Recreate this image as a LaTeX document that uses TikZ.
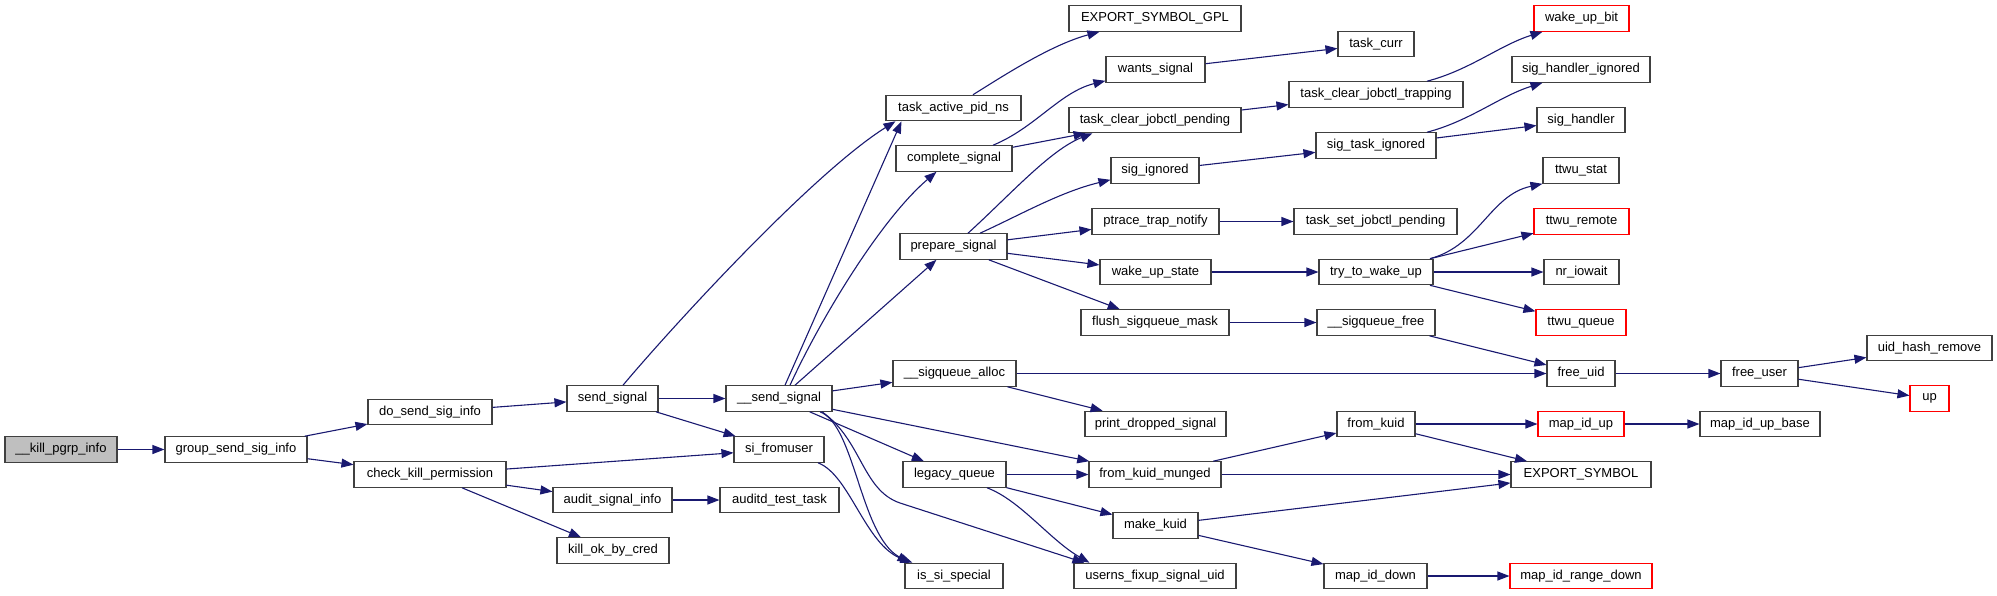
\documentclass[tikz,border=0pt]{standalone}
\usepackage{fontspec}
\setmainfont{Liberation Sans}
\usetikzlibrary{arrows.meta}
\definecolor{mblue}{HTML}{191970}
\definecolor{bord}{HTML}{404040}
\begin{document}
\begin{tikzpicture}[x=1pt,y=-1pt,
  nb/.style={draw=bord, line width=1.1pt, fill=white, minimum height=25.5pt, inner sep=0pt, font=\fontsize{13}{15}\selectfont},
  rd/.style={nb, draw=red},
  root/.style={nb, fill=black!25},
  cl/.style={draw=mblue, line width=1.1pt, -{Triangle[length=12pt,width=9pt]}}]
\useasboundingbox (0,0) rectangle (1997,595);
\node[root, minimum width=112pt] (kpi) at (61,449.5) {\_\_kill\_pgrp\_info};
\node[nb, minimum width=142pt] (gssi) at (236,449.5) {group\_send\_sig\_info};
\node[nb, minimum width=124pt] (dssi) at (430,412) {do\_send\_sig\_info};
\node[nb, minimum width=152pt] (ckp) at (430,474.5) {check\_kill\_permission};
\node[nb, minimum width=91pt] (ss) at (612.5,398.5) {send\_signal};
\node[nb, minimum width=106pt] (uss) at (779,398.5) {\_\_send\_signal};
\node[nb, minimum width=90pt] (sfu) at (779,449.5) {si\_fromuser};
\node[nb, minimum width=119pt] (asi) at (612.5,500) {audit\_signal\_info};
\node[nb, minimum width=119pt] (att) at (779.5,500) {auditd\_test\_task};
\node[nb, minimum width=112pt] (kobc) at (613,550.5) {kill\_ok\_by\_cred};
\node[nb, minimum width=123pt] (sqa) at (954.5,373.5) {\_\_sigqueue\_alloc};
\node[nb, minimum width=103pt] (lq) at (954.5,474.5) {legacy\_queue};
\node[nb, minimum width=98pt] (iss) at (954,576) {is\_si\_special};
\node[nb, minimum width=135pt] (tapn) at (953.5,108) {task\_active\_pid\_ns};
\node[nb, minimum width=116pt] (cs) at (954,158.5) {complete\_signal};
\node[nb, minimum width=107pt] (ps) at (953.5,246.5) {prepare\_signal};
\node[nb, minimum width=172pt] (esg) at (1155,18.5) {EXPORT\_SYMBOL\_GPL};
\node[nb, minimum width=99pt] (ws) at (1155.5,69.5) {wants\_signal};
\node[nb, minimum width=76pt] (tc) at (1376,44) {task\_curr};
\node[nb, minimum width=172pt] (tcjp) at (1155,120) {task\_clear\_jobctl\_pending};
\node[nb, minimum width=174pt] (tcjt) at (1376,94.5) {task\_clear\_jobctl\_trapping};
\node[nb, minimum width=88pt] (si) at (1155,170.5) {sig\_ignored};
\node[nb, minimum width=120pt] (sti) at (1376,145.5) {sig\_task\_ignored};
\node[nb, minimum width=127pt] (ptn) at (1155.5,221.5) {ptrace\_trap\_notify};
\node[nb, minimum width=163pt] (tsjp) at (1375.5,221.5) {task\_set\_jobctl\_pending};
\node[nb, minimum width=111pt] (wus) at (1155.5,272) {wake\_up\_state};
\node[nb, minimum width=114pt] (ttwu) at (1376,272) {try\_to\_wake\_up};
\node[nb, minimum width=148pt] (fsm) at (1155,322.5) {flush\_sigqueue\_mask};
\node[nb, minimum width=118pt] (sqf) at (1376,322.5) {\_\_sigqueue\_free};
\node[nb, minimum width=141pt] (pds) at (1155.5,424) {print\_dropped\_signal};
\node[nb, minimum width=78pt] (fk) at (1376,424) {from\_kuid};
\node[nb, minimum width=132pt] (fkm) at (1155,474.5) {from\_kuid\_munged};
\node[nb, minimum width=85pt] (mk) at (1155.5,525.5) {make\_kuid};
\node[nb, minimum width=162pt] (ufsu) at (1155,576) {userns\_fixup\_signal\_uid};
\node[nb, minimum width=103pt] (mid) at (1375.5,576) {map\_id\_down};
\node[rd, minimum width=95pt] (wub) at (1581.5,18.5) {wake\_up\_bit};
\node[nb, minimum width=138pt] (shi) at (1581,69.5) {sig\_handler\_ignored};
\node[nb, minimum width=88pt] (sh) at (1581,120) {sig\_handler};
\node[nb, minimum width=76pt] (tst) at (1581,170.5) {ttwu\_stat};
\node[rd, minimum width=95pt] (trm) at (1581.5,221.5) {ttwu\_remote};
\node[nb, minimum width=75pt] (nio) at (1581.5,272) {nr\_iowait};
\node[rd, minimum width=90pt] (tq) at (1581,322.5) {ttwu\_queue};
\node[nb, minimum width=68pt] (fu) at (1581,373.5) {free\_uid};
\node[nb, minimum width=77pt] (fus) at (1759.5,373.5) {free\_user};
\node[nb, minimum width=125pt] (uhr) at (1929.5,348) {uid\_hash\_remove};
\node[rd, minimum width=39pt] (up) at (1929.5,398.5) {up};
\node[rd, minimum width=86pt] (miu) at (1581,424) {map\_id\_up};
\node[nb, minimum width=120pt] (miub) at (1760,424) {map\_id\_up\_base};
\node[nb, minimum width=140pt] (es) at (1581,474.5) {EXPORT\_SYMBOL};
\node[rd, minimum width=142pt] (mird) at (1581,576) {map\_id\_range\_down};
%
\draw[cl] (kpi) -- (gssi);
\draw[cl] (gssi) -- (dssi);
\draw[cl] (gssi) -- (ckp);
\draw[cl] (dssi) -- (ss);
\draw[cl] (ckp) -- (sfu);
\draw[cl] (ckp) -- (asi);
\draw[cl] (ckp) -- (kobc);
\draw[cl] ([xshift=10.5pt]ss.north) .. controls (665,335) and (810,175) .. ([xshift=10pt]tapn.south west);
\draw[cl] (ss) -- (uss);
\draw[cl] (ss) -- (sfu);
\draw[cl] (asi) -- (att);
\draw[cl] ([xshift=39pt]sfu.south) .. controls (850,475) and (865,545) .. ([xshift=8pt]iss.north west);
\draw[cl] ([xshift=6pt]uss.north) -- ([xshift=16pt]tapn.south west);
\draw[cl] ([xshift=11pt]uss.north) .. controls (820,320) and (880,220) .. ([xshift=41pt]cs.south west);
\draw[cl] ([xshift=16pt]uss.north) -- ([xshift=37pt]ps.south west);
\draw[cl] (uss) -- (sqa);
\draw[cl] (uss) -- (fkm);
\draw[cl] (uss) -- (lq);
\draw[cl] ([xshift=41pt]uss.south) .. controls (855,425) and (860,535) .. ([xshift=5pt]iss.north west);
\draw[cl] ([xshift=43pt]uss.south) .. controls (862,440) and (862,490) .. (900,503) -- ([xshift=11pt]ufsu.north west);
\draw[cl] ([xshift=19.5pt]tapn.north) .. controls (1000,78) and (1050,45) .. ([xshift=31pt]esg.south west);
\draw[cl] ([xshift=39pt]cs.north) .. controls (1035,128) and (1060,92) .. ([yshift=2pt]ws.south west);
\draw[cl] (cs) -- (tcjp);
\draw[cl] ([xshift=14.5pt]ps.north) .. controls (1010,195) and (1050,150) .. ([xshift=24pt]tcjp.south west);
\draw[cl] ([xshift=26.5pt]ps.north) .. controls (1020,215) and (1060,192) .. ([yshift=4pt]si.south west);
\draw[cl] (ps) -- (ptn);
\draw[cl] (ps) -- (wus);
\draw[cl] (ps) -- (fsm);
\draw[cl] (ws) -- (tc);
\draw[cl] (tcjp) -- (tcjt);
\draw[cl] ([xshift=51pt]tcjt.north) .. controls (1470,70) and (1500,45) .. ([xshift=9pt]wub.south west);
\draw[cl] (si) -- (sti);
\draw[cl] ([xshift=51pt]sti.north) .. controls (1470,121) and (1500,96) .. ([xshift=31pt]shi.south west);
\draw[cl] (sti) -- (sh);
\draw[cl] (ptn) -- (tsjp);
\draw[cl] (wus) -- (ttwu);
\draw[cl] ([xshift=54pt]ttwu.north) .. controls (1480,245) and (1490,195) .. (tst.south west);
\draw[cl] (ttwu) -- (trm);
\draw[cl] (ttwu) -- (nio);
\draw[cl] (ttwu) -- (tq);
\draw[cl] (fsm) -- (sqf);
\draw[cl] (sqf) -- (fu);
\draw[cl] (sqa) -- (fu);
\draw[cl] (sqa) -- (pds);
\draw[cl] (fu) -- (fus);
\draw[cl] (fus) -- (uhr);
\draw[cl] (fus) -- (up);
\draw[cl] (lq) -- (fkm);
\draw[cl] (lq) -- (mk);
\draw[cl] ([xshift=32.5pt]lq.south) .. controls (1020,500) and (1050,540) .. ([xshift=16pt]ufsu.north west);
\draw[cl] (fkm) -- (fk);
\draw[cl] (fkm) -- (es);
\draw[cl] (fk) -- (miu);
\draw[cl] (fk) -- (es);
\draw[cl] (miu) -- (miub);
\draw[cl] (mk) -- (es);
\draw[cl] (mk) -- (mid);
\draw[cl] (mid) -- (mird);
\end{tikzpicture}
\end{document}
